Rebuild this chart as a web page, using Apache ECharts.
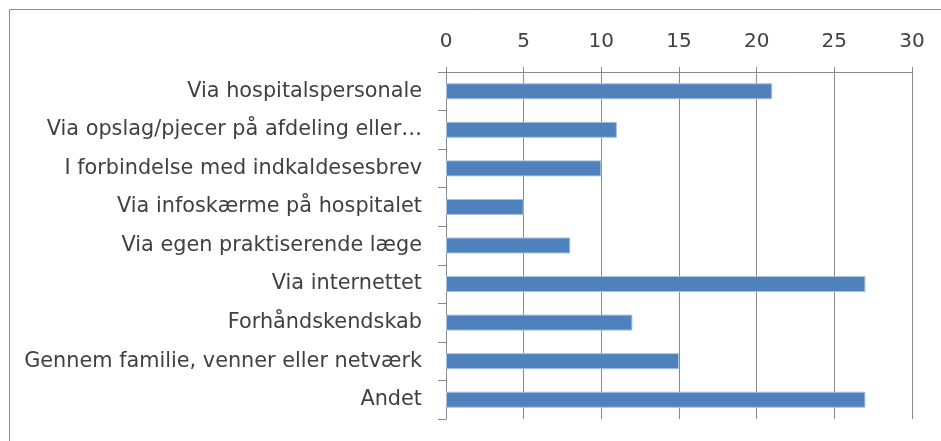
<!DOCTYPE html>
<html>
<head>
<meta charset="utf-8">
<script src="https://cdn.jsdelivr.net/npm/echarts@6/dist/echarts.min.js"></script>
<style>
  html, body { margin: 0; padding: 0; background: #fff; }
  #main { width: 941px; height: 441px; }
</style>
</head>
<body>
<div id="main"></div>
<script>
// kategorier, oppefra og ned
var categories = [
    'Via hospitalspersonale',
    'Via opslag/pjecer på afdeling eller…',
    'I forbindelse med indkaldesesbrev',
    'Via infoskærme på hospitalet',
    'Via egen praktiserende læge',
    'Via internettet',
    'Forhåndskendskab',
    'Gennem familie, venner eller netværk',
    'Andet'
];
var counts = [21, 11, 10, 5, 8, 27, 12, 15, 27];

var axisMin = 0, axisMax = 30, axisStep = 5;

var gridColor = '#8a8a8a';
var textColor = '#404040';
var fontFamily = '"DejaVu Sans", sans-serif';

var chart = echarts.init(document.getElementById('main'), null, { renderer: 'canvas' });

var option = {
    animation: false,
    graphic: [
        {
            // ramme omkring diagrammet (kun top og venstre synlig)
            type: 'rect',
            shape: { x: 9.5, y: 9.5, width: 1200, height: 1200 },
            style: { fill: 'none', stroke: '#8c8c8c', lineWidth: 1 },
            silent: true
        }
    ],
    grid: {
        left: 446,
        right: 29,
        top: 72,
        bottom: 22
    },
    xAxis: {
        type: 'value',
        position: 'top',
        min: axisMin,
        max: axisMax,
        interval: axisStep,
        axisLine: { show: true, lineStyle: { color: gridColor, width: 1 } },
        axisTick: { show: true, length: 5, lineStyle: { color: gridColor } },
        splitLine: { show: true, lineStyle: { color: gridColor, width: 1 } },
        axisLabel: {
            margin: 20,
            color: textColor,
            fontSize: 20,
            fontFamily: fontFamily
        }
    },
    yAxis: {
        type: 'category',
        inverse: true,
        data: categories,
        axisLine: { show: true, lineStyle: { color: gridColor, width: 1 } },
        axisTick: { show: true, length: 8, alignWithLabel: false, lineStyle: { color: gridColor } },
        axisLabel: {
            margin: 24,
            color: textColor,
            fontSize: 20.8,
            fontFamily: fontFamily
        }
    },
    series: [
        {
            type: 'bar',
            data: counts,
            barWidth: 16,
            itemStyle: {
                color: '#4f81bd',
                borderColor: '#a9c1e0',
                borderWidth: 1
            }
        }
    ]
};

chart.setOption(option);
</script>
</body>
</html>
